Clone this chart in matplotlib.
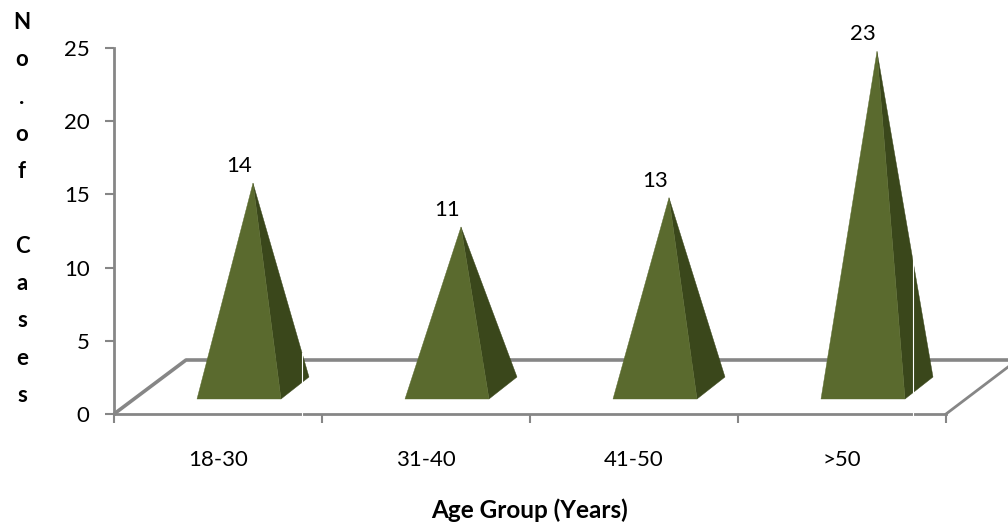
import matplotlib
matplotlib.use("Agg")
import matplotlib.pyplot as plt
from matplotlib.patches import Polygon
from matplotlib.ticker import FixedLocator, NullFormatter, FixedFormatter

categories = ["18-30", "31-40", "41-50", ">50"]
cases = [14, 11, 13, 23]
y_ticks = [0, 5, 10, 15, 20, 25]

W, H = 1008, 529
GREY = "#868686"
FRONT = "#5a6a2e"
SIDE = "#3a471b"

plt.rcParams["font.family"] = ["Lato", "DejaVu Sans"]

fig = plt.figure(figsize=(W / 100, H / 100), dpi=100, facecolor="white")
ax = fig.add_axes([114 / W, 1 - 414 / H, (946 - 114) / W, (414 - 48) / H])
ax.set_xlim(0, 4)
ax.set_ylim(0, 25)

# Conversions from screen pixels to data units for the oblique projection
px_x = 4 / (946 - 114)
px_y = 25 / (414 - 48)
half_w = 42 * px_x
shift = 21 * px_x
depth_x = 28 * px_x
depth_y = 22 * px_y
floor_y = 15 * px_y

# Floor of the 3D chart
floor_dx = 72 * px_x
floor_dy = 54 * px_y
ax.plot([0, floor_dx, 4 + 62 * px_x], [0, floor_dy, floor_dy],
        color=GREY, lw=2.6, clip_on=False, zorder=1, solid_capstyle="butt")
ax.plot([4, 4 + 62 * px_x], [0, floor_dy * 47 / 54], color=GREY, lw=2,
        clip_on=False, zorder=1)

# Pyramids: front face plus right-hand side face
for i, v in enumerate(cases):
    cx = i + 0.5 + shift
    left, right = cx - half_w, cx + half_w
    apex = (cx + depth_x / 2, floor_y + depth_y / 2 + v)
    ax.add_patch(Polygon([(right, floor_y), (right + depth_x, floor_y + depth_y), apex],
                         closed=True, fc=SIDE, ec=SIDE, lw=0.3, zorder=3, clip_on=False))
    ax.add_patch(Polygon([(left, floor_y), (right, floor_y), apex],
                         closed=True, fc=FRONT, ec=FRONT, lw=0.3, zorder=4, clip_on=False))
    ax.text(cx, apex[1] + 17 * px_y, str(v), ha="center", va="center",
            fontsize=16, color="black", zorder=6)

# Thin white seams crossing the first and last pyramids
ax.plot([(302 - 114) * px_x] * 2, [-3 * px_y, 61 * px_y], color="white", lw=0.8, zorder=5, clip_on=False)
ax.plot([(913 - 114) * px_x] * 2, [-3 * px_y, 161 * px_y], color="white", lw=0.8, zorder=5, clip_on=False)

# Axes and ticks
for side in ("top", "right"):
    ax.spines[side].set_visible(False)
for side in ("left", "bottom"):
    ax.spines[side].set_color(GREY)
    ax.spines[side].set_linewidth(2)
ax.patch.set_alpha(0)

ax.set_yticks(y_ticks)
ax.tick_params(axis="y", length=6.5, width=1.5, color=GREY, labelsize=16, pad=11)
ax.xaxis.set_major_locator(FixedLocator([0, 1, 2, 3, 4]))
ax.xaxis.set_major_formatter(NullFormatter())
ax.xaxis.set_minor_locator(FixedLocator([0.5, 1.5, 2.5, 3.5]))
ax.xaxis.set_minor_formatter(FixedFormatter(categories))
ax.tick_params(axis="x", which="major", length=6.5, width=1.5, color=GREY)
ax.tick_params(axis="x", which="minor", length=0, labelsize=16, pad=26)

# Axis titles
fig.text(530 / W, 1 - 510 / H, "Age Group (Years)", ha="center", va="center",
         fontsize=17.5, fontweight="bold")
fig.text(22 / W, 1 - 209 / H, "\n".join("No.of Cases"), ha="center", va="center",
         fontsize=16, fontweight="bold", linespacing=1.96)

fig.savefig("out.png", dpi=100)
